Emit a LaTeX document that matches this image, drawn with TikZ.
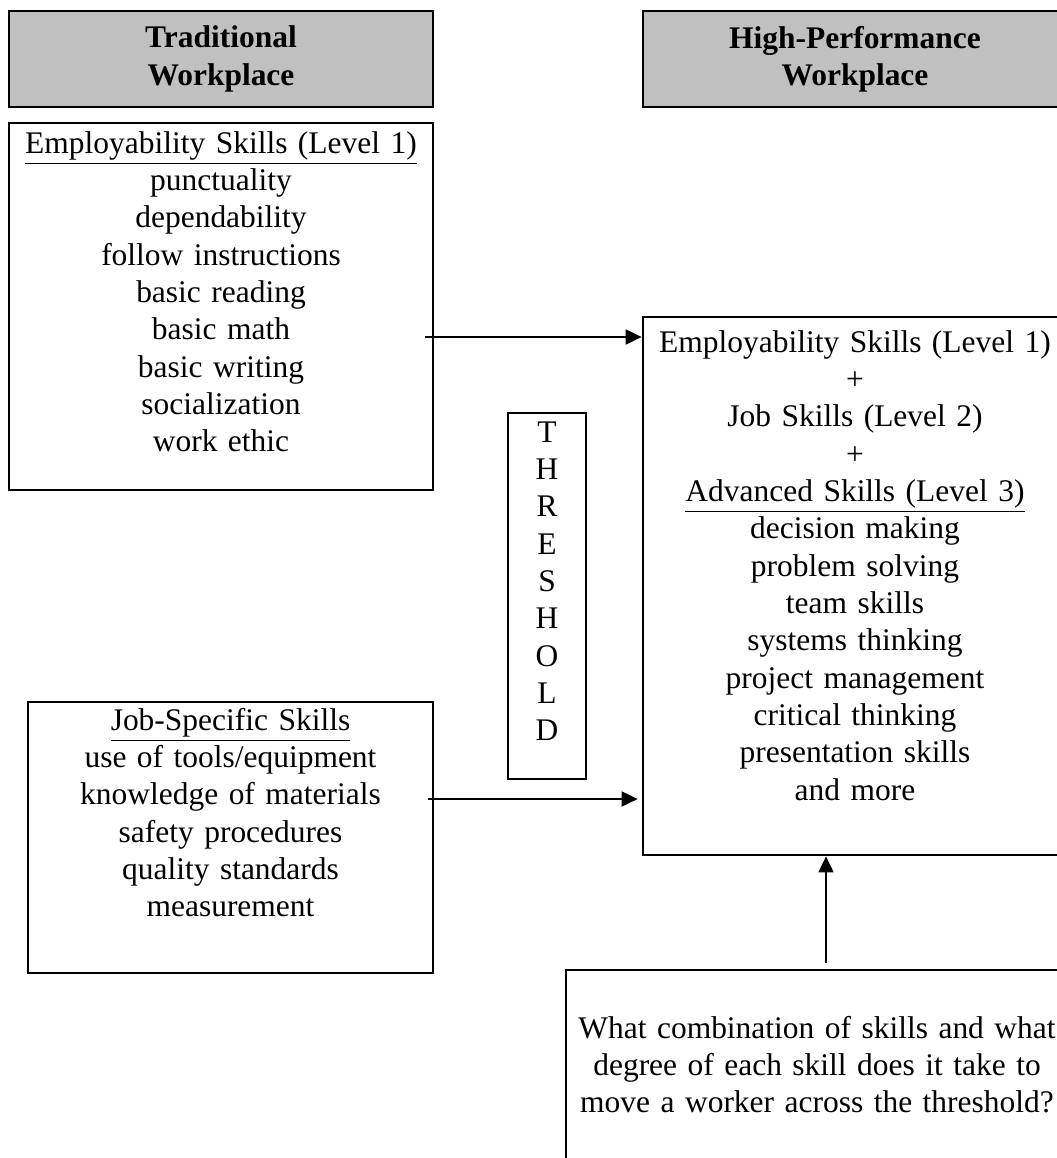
\documentclass[tikz,border=0pt]{standalone}
\usepackage{fontspec}
\setmainfont{Liberation Serif}
\usepackage{xcolor}
\usetikzlibrary{arrows.meta}
\definecolor{headgray}{HTML}{C0C0C0}
\newcommand\skillfont{\fontsize{11.8pt}{14pt}\selectfont}
\tikzset{
  skillbox/.style={draw=black, line width=1pt, inner sep=0pt},
  headbox/.style={skillbox, fill=headgray, minimum width=159pt, minimum height=36pt,
    align=center, font=\bfseries\skillfont},
  skilltext/.style={inner sep=0pt, text width=#1, align=center, anchor=base, font=\skillfont},
  arr/.style={-{Triangle[length=6pt,width=5.6pt]}, line width=0.75pt},
}

\begin{document}
\begin{tikzpicture}[x=0.375pt, y=-0.375pt]
  \useasboundingbox (0,0) rectangle (1057,1158);
  % headers
  \node[headbox] (trad) at (221,59) {Traditional\\Workplace};
  \node[headbox] (hiperf) at (855,59) {High-Performance\\Workplace};
  % boxes
  \node[skillbox, minimum width=159pt, minimum height=137.6pt] (emp) at (221,306.5) {};
  \node[skillbox, minimum width=151.9pt, minimum height=101.6pt] (job) at (230.5,837.5) {};
  \node[skillbox, minimum width=29.25pt, minimum height=137.25pt] (thr) at (547,596) {};
  \node[skillbox, minimum width=159pt, minimum height=201.75pt] (high) at (855,586) {};
  \node[skillbox, minimum width=188.25pt, minimum height=75pt] (ques) at (817,1070) {};
  % texts
  \node[skilltext=150pt] (emptext) at (221,153) {\underline{Employability Skills (Level 1)}\\
    punctuality\\dependability\\follow instructions\\basic reading\\basic math\\
    basic writing\\socialization\\work ethic};
  \node[skilltext=150pt] (jobtext) at (230.5,730) {\underline{Job-Specific Skills}\\
    use of tools/equipment\\knowledge of materials\\safety procedures\\
    quality standards\\measurement};
  \node[skilltext=20pt] (thrtext) at (547,442) {T\\H\\R\\E\\S\\H\\O\\L\\D};
  \node[skilltext=150pt] (hightext) at (855,352) {Employability Skills (Level 1)\\+\\
    Job Skills (Level 2)\\+\\\underline{Advanced Skills (Level 3)}\\
    decision making\\problem solving\\team skills\\systems thinking\\
    project management\\critical thinking\\presentation skills\\and more};
  \node[skilltext=185pt] (questext) at (817,1038) {What combination of skills and what\\
    degree of each skill does it take to\\move a worker across the threshold?};
  % arrows
  \coordinate (a1) at (425,337);
  \coordinate (a2) at (428,799);
  \coordinate (a3) at (826,963);
  \draw[arr] (a1) -- (a1 -| high.west);
  \draw[arr, shorten >=1.5pt] (a2) -- (a2 -| high.west);
  \draw[arr] (a3) -- (a3 |- high.south);
\end{tikzpicture}
\end{document}
